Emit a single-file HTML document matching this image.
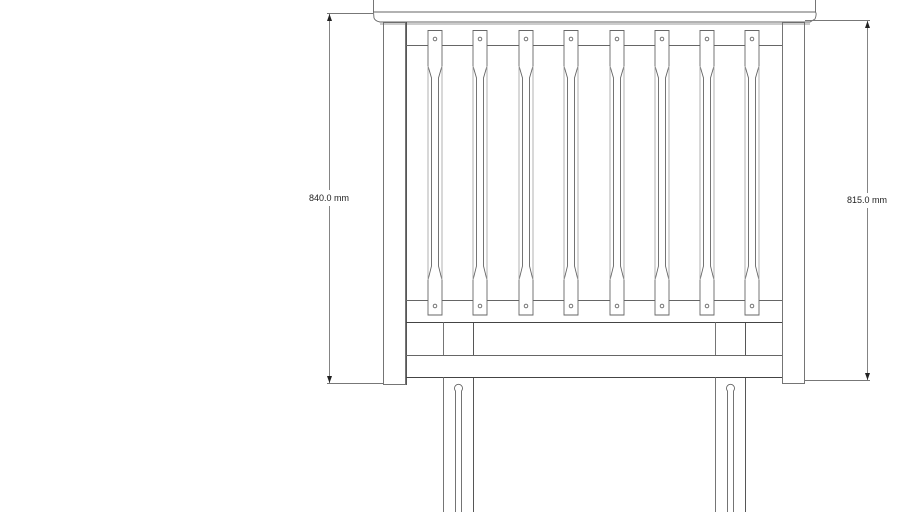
<!DOCTYPE html>
<html><head><meta charset="utf-8"><style>
html,body{margin:0;padding:0;background:#fff;}
svg{display:block;}
text{font-family:"Liberation Sans",sans-serif;font-size:9px;fill:#222;}
</style></head><body>
<svg width="910" height="512" viewBox="0 0 910 512" xmlns="http://www.w3.org/2000/svg">
<g fill="none" stroke="#666" stroke-width="0.9">
<line x1="373.5" y1="0" x2="373.5" y2="12"/>
<line x1="815.5" y1="0" x2="815.5" y2="12"/>
<path d="M373.5 12 L815.5 12 Q817 14 815 19 L810 22 L380 22 Q375 21 374 18 Z"/>
<line x1="380" y1="24" x2="810" y2="24" stroke="#999"/>
<rect x="383.5" y="22.5" width="22" height="362"/>
<rect x="782.5" y="22.5" width="22" height="361"/>
<line x1="406.5" y1="22" x2="406.5" y2="385" stroke="#444"/>
<line x1="406" y1="45.5" x2="782" y2="45.5"/>
<line x1="406" y1="300.5" x2="782" y2="300.5"/>
<line x1="406" y1="322.5" x2="782" y2="322.5" stroke="#444"/>
<line x1="406" y1="355.5" x2="782" y2="355.5"/>
<line x1="406" y1="377.5" x2="782" y2="377.5" stroke="#444"/>
<line x1="443.5" y1="322" x2="443.5" y2="355"/>
<line x1="473.5" y1="322" x2="473.5" y2="355" stroke="#444"/>
<line x1="715.5" y1="322" x2="715.5" y2="355"/>
<line x1="745.5" y1="322" x2="745.5" y2="355" stroke="#444"/>
<line x1="443.5" y1="377" x2="443.5" y2="512"/>
<line x1="473.5" y1="377" x2="473.5" y2="512" stroke="#444"/>
<line x1="715.5" y1="377" x2="715.5" y2="512"/>
<line x1="745.5" y1="377" x2="745.5" y2="512" stroke="#444"/>
<path d="M455.5 512 L455.5 391 A4 4 0 1 1 461.5 391 L461.5 512"/>
<path d="M727.5 512 L727.5 391 A4 4 0 1 1 733.5 391 L733.5 512"/>
</g>
<g fill="#fff" stroke="#666" stroke-width="0.9">
<g id="b0" transform="translate(435,0)">
<path d="M-7 30.5 L7 30.5 L7 66 L3.5 78 L3.5 266 L7 280 L7 315 L-7 315 L-7 280 L-3.5 266 L-3.5 78 L-7 66 Z"/>
<line x1="-7" y1="66" x2="-7" y2="280" stroke="#aaa"/>
<line x1="7" y1="66" x2="7" y2="280" stroke="#aaa"/>
<circle cx="0" cy="39" r="1.8"/>
<circle cx="0" cy="306" r="1.8"/>
</g>
<use href="#b0" x="45"/>
<use href="#b0" x="91"/>
<use href="#b0" x="136"/>
<use href="#b0" x="182"/>
<use href="#b0" x="227"/>
<use href="#b0" x="272"/>
<use href="#b0" x="317"/>
</g>
<g stroke="#777" stroke-width="0.9" fill="none">
<line x1="327" y1="13.5" x2="373" y2="13.5"/>
<line x1="327" y1="383.5" x2="383" y2="383.5"/>
<line x1="329.5" y1="14" x2="329.5" y2="190"/>
<line x1="329.5" y1="206" x2="329.5" y2="383"/>
<line x1="805" y1="20.5" x2="870" y2="20.5"/>
<line x1="805" y1="380.5" x2="870" y2="380.5"/>
<line x1="867.5" y1="21" x2="867.5" y2="193"/>
<line x1="867.5" y1="208" x2="867.5" y2="380"/>
</g>
<g fill="#222">
<path d="M329.5 14 L327 21 L332 21 Z"/>
<path d="M329.5 383 L327 376 L332 376 Z"/>
<path d="M867.5 21 L865 28 L870 28 Z"/>
<path d="M867.5 380 L865 373 L870 373 Z"/>
</g>
<text x="329" y="201" text-anchor="middle">840.0 mm</text>
<text x="867" y="203" text-anchor="middle">815.0 mm</text>
</svg>
</body></html>
